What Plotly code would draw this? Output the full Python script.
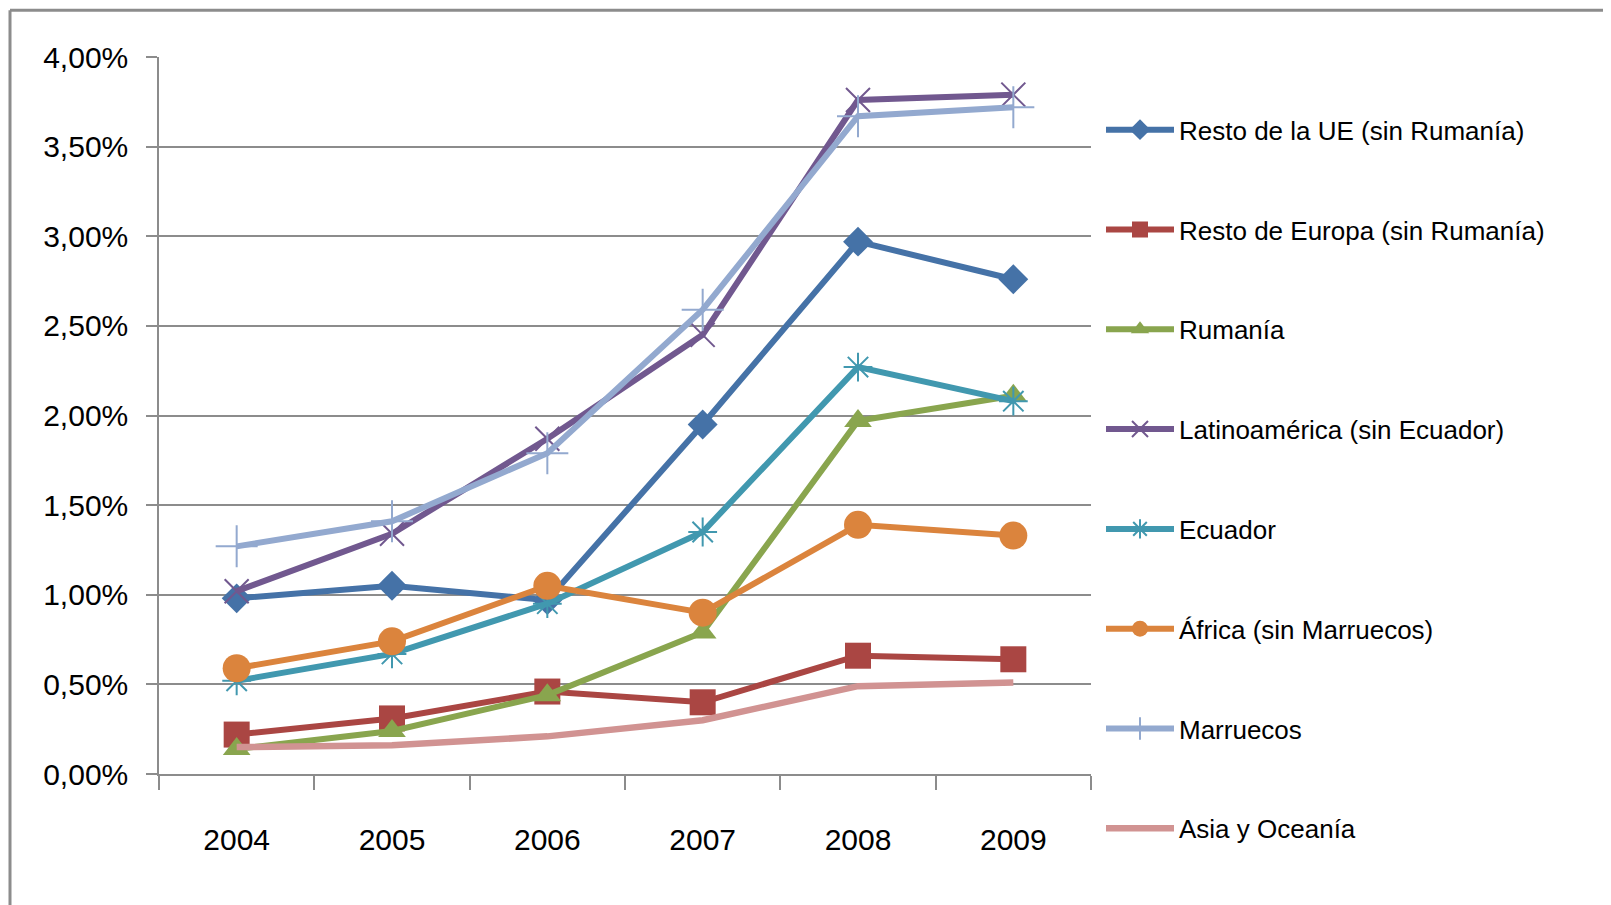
import plotly.graph_objects as go

years = ["2004", "2005", "2006", "2007", "2008", "2009"]

resto_ue = [0.0098, 0.0105, 0.0097, 0.0195, 0.0297, 0.0276]
resto_europa = [0.0022, 0.0031, 0.0046, 0.0040, 0.0066, 0.0064]
rumania = [0.0014, 0.0024, 0.0044, 0.0079, 0.0197, 0.0211]
latinoamerica = [0.0102, 0.0134, 0.0187, 0.0245, 0.0376, 0.0379]
ecuador = [0.0052, 0.0067, 0.0095, 0.0135, 0.0227, 0.0208]
africa = [0.0059, 0.0074, 0.0105, 0.0090, 0.0139, 0.0133]
marruecos = [0.0127, 0.0141, 0.0179, 0.0259, 0.0367, 0.0372]
asia = [0.0015, 0.0016, 0.0021, 0.0030, 0.0049, 0.0051]

names = ["Resto de la UE (sin Rumanía)", "Resto de Europa (sin Rumanía)", "Rumanía",
         "Latinoamérica (sin Ecuador)", "Ecuador", "África (sin Marruecos)",
         "Marruecos", "Asia y Oceanía"]

y_tickvals = [0, 0.005, 0.01, 0.015, 0.02, 0.025, 0.03, 0.035, 0.04]
y_ticktext = ["0,00%", "0,50%", "1,00%", "1,50%", "2,00%", "2,50%", "3,00%", "3,50%", "4,00%"]

series = [resto_ue, resto_europa, rumania, latinoamerica, ecuador, africa, marruecos, asia]
colors = ["#4572A7", "#AA4643", "#89A54E", "#71588F", "#4198AF", "#DB843D", "#93A9CF", "#D19392"]
styles = [
    dict(symbol="diamond", size=23, line=dict(width=0)),
    dict(symbol="square", size=26, line=dict(width=0)),
    dict(symbol="triangle-up", size=24, line=dict(width=0)),
    dict(symbol="x-thin-open", size=24, line=dict(width=2)),
    dict(symbol="asterisk-open", size=24, line=dict(width=2)),
    dict(symbol="circle", size=28, line=dict(width=0)),
    dict(symbol="cross-thin-open", size=30, line=dict(width=2)),
    None,
]

FONT = "Liberation Sans, Arial, sans-serif"

fig = go.Figure()
for i, (nm, vals, col, st) in enumerate(zip(names, series, colors, styles)):
    if st is None:
        fig.add_trace(go.Scatter(x=years, y=vals, name=nm, mode="lines",
                                 line=dict(color=col, width=6.5), legendgroup=f"g{i}"))
    else:
        mk = dict(st)
        mk["color"] = col
        mk["line"] = dict(color=col, width=st["line"]["width"])
        fig.add_trace(go.Scatter(x=years, y=vals, name=nm, mode="lines+markers",
                                 line=dict(color=col, width=6), marker=mk,
                                 legendgroup=f"g{i}"))

# page offset of 8 px (body margin) compensated
OFF = 8
L, R, T, B = 159 - OFF, 1091 - OFF, 56.7 - OFF, 774 - OFF
W, H = 1611, 905

def px_x(p):
    return (p - L) / (R - L)

def px_y(p):
    return (B - p) / (B - T)

fig.add_shape(type="line", xref="paper", yref="paper",
              x0=px_x(10 - OFF), x1=px_x(W + 5), y0=px_y(10 - OFF), y1=px_y(10 - OFF),
              line=dict(color="#8c8c8c", width=3))
fig.add_shape(type="line", xref="paper", yref="paper",
              x0=px_x(10 - OFF), x1=px_x(10 - OFF), y0=px_y(10 - OFF), y1=px_y(H + 5),
              line=dict(color="#8c8c8c", width=3))

fig.update_layout(
    width=W, height=H,
    margin=dict(l=L, r=W - R, t=T, b=H - B),
    paper_bgcolor="white", plot_bgcolor="white",
    font=dict(family=FONT, color="#000000", size=26),
    showlegend=True,
    legend=dict(x=px_x(1093), y=px_y(98), xanchor="left", yanchor="top",
                font=dict(family=FONT, size=26, color="#000000"),
                tracegroupgap=63, itemwidth=68, bgcolor="rgba(0,0,0,0)",
                maxheight=880),
    xaxis=dict(type="category", range=[-0.5, 5.5], tickson="boundaries",
               showgrid=False, showline=True, linecolor="#8c8c8c", linewidth=1.5,
               ticks="outside", ticklen=14, tickcolor="#8c8c8c", tickwidth=1.5,
               tickfont=dict(family=FONT, size=30, color="#000000"),
               ticklabelstandoff=38, zeroline=False, fixedrange=True),
    yaxis=dict(range=[0, 0.04], tickvals=y_tickvals, ticktext=y_ticktext,
               showgrid=True, gridcolor="#8c8c8c", gridwidth=1.5,
               showline=True, linecolor="#8c8c8c", linewidth=1.5,
               ticks="outside", ticklen=11, tickcolor="#8c8c8c", tickwidth=1.5,
               tickfont=dict(family=FONT, size=30, color="#000000"),
               ticklabelstandoff=12, zeroline=False, fixedrange=True),
)

fig.write_html("out.html")
